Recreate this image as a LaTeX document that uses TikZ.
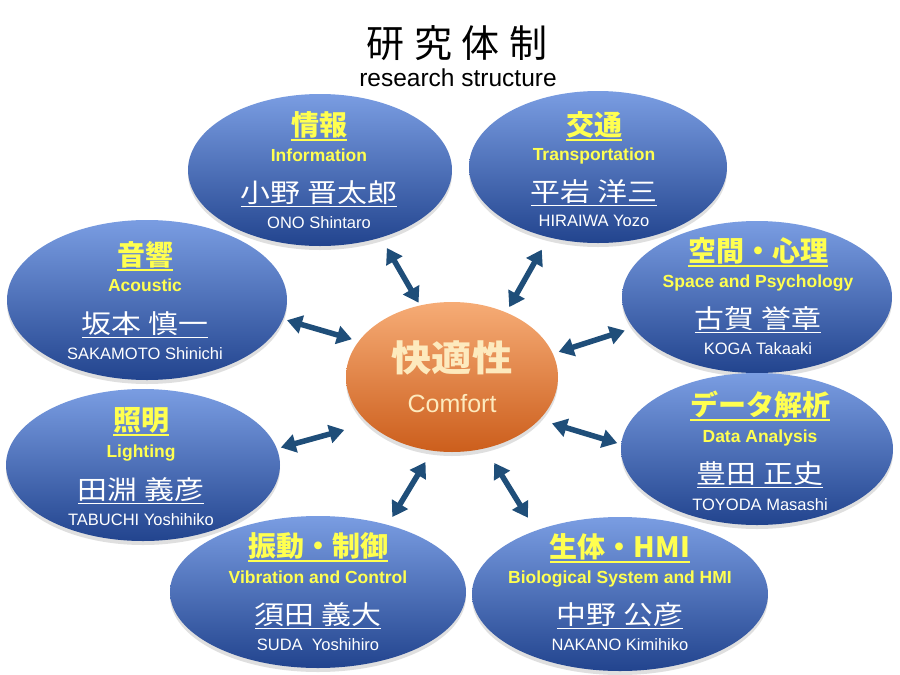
\documentclass[tikz,border=0pt]{standalone}
\usepackage{fontspec}
\usepackage{graphicx}
\setmainfont{Liberation Sans}
\newfontfamily\jp{Noto Sans CJK JP}
\newfontfamily\jpwide[LetterSpace=25]{Noto Sans CJK JP}
\usetikzlibrary{shapes.geometric,arrows.meta,shadows}
\definecolor{bubtop}{RGB}{122,157,226}
\definecolor{bubbot}{RGB}{34,68,142}
\definecolor{cortop}{RGB}{246,172,118}
\definecolor{corbot}{RGB}{204,94,28}
\definecolor{cream}{RGB}{253,234,190}
\definecolor{fieldyellow}{RGB}{255,255,80}
\definecolor{linkblue}{RGB}{31,78,121}
\newcommand{\undl}[1]{\setbox0\hbox{#1}\leavevmode\rlap{\rule[-0.2em]{\wd0}{1.3pt}}\box0}

\begin{document}
\begin{tikzpicture}[x=1pt, y=-1pt,
  bubble/.style={ellipse,minimum height=152pt,inner sep=0pt,top color=bubtop,bottom color=bubbot,
    drop shadow={opacity=.25,shadow xshift=0pt,shadow yshift=-4pt}},
  field/.style={font=\jp\bfseries\fontsize{28}{30}\selectfont,text=fieldyellow,inner sep=0pt,anchor=base},
  eng/.style={font=\bfseries\fontsize{17.5}{19}\selectfont,text=fieldyellow,inner sep=0pt,anchor=base},
  jname/.style={font=\jp\fontsize{26}{28}\selectfont,text=white,inner sep=0pt,anchor=base},
  roma/.style={font=\fontsize{16.5}{18}\selectfont,text=white,inner sep=0pt,anchor=base},
  link/.style={draw=linkblue,line width=5.5pt,{Triangle[length=15pt,width=18pt]}-{Triangle[length=15pt,width=18pt]}}]
  \useasboundingbox[fill=white] (0,0) rectangle (900,675);
  % title
  \node[font=\jpwide\fontsize{38}{42}\selectfont,anchor=base,inner sep=0pt] (title) at (457,57) {研究体制};
  \node[font=\fontsize{24.5}{26}\selectfont,anchor=base,inner sep=0pt] (subtitle) at (458,86) {research structure};
  % centre
  \node[ellipse,minimum width=212pt,minimum height=150pt,inner sep=0pt,top color=cortop,bottom color=corbot,
    drop shadow={opacity=.25,shadow xshift=0pt,shadow yshift=-4pt}] (comfort) at (452,377) {};
  \node[font=\jp\bfseries\fontsize{36}{40}\selectfont,text=cream,anchor=base,inner sep=0pt] (comfort-j) at (452,371) {\scalebox{1.12}[1]{快適性}};
  \node[font=\fontsize{25}{27}\selectfont,text=cream,anchor=base,inner sep=0pt] (comfort-e) at (452,412) {Comfort};
  % members
  \node[bubble,minimum width=264pt] (info) at (320,170) {};
  \node[field] (info-f) at (319,135) {\undl{情報}}; \node[eng] (info-e) at (319,161) {Information};
  \node[jname] (info-n) at (319,202) {\scalebox{1.15}[1]{\undl{小野 晋太郎}}}; \node[roma] (info-r) at (319,228) {ONO Shintaro};
  \node[bubble,minimum width=258pt] (trans) at (598,167) {};
  \node[field] (trans-f) at (594,135) {\undl{交通}}; \node[eng] (trans-e) at (594,160) {Transportation};
  \node[jname] (trans-n) at (594,201) {\scalebox{1.15}[1]{\undl{平岩 洋三}}}; \node[roma] (trans-r) at (594,226) {HIRAIWA Yozo};
  \node[bubble,minimum width=280pt,minimum height=160pt] (acou) at (147,300) {};
  \node[field] (acou-f) at (145,265) {\undl{音響}}; \node[eng] (acou-e) at (145,291) {Acoustic};
  \node[jname] (acou-n) at (145,333) {\scalebox{1.15}[1]{\undl{坂本 慎一}}}; \node[roma] (acou-r) at (145,359) {SAKAMOTO Shinichi};
  \node[bubble,minimum width=270pt] (space) at (757,297) {};
  \node[field] (space-f) at (758,261) {\undl{空間・心理}}; \node[eng] (space-e) at (758,287) {Space and Psychology};
  \node[jname] (space-n) at (758,328) {\scalebox{1.15}[1]{\undl{古賀 誉章}}}; \node[roma] (space-r) at (758,354) {KOGA Takaaki};
  \node[bubble,minimum width=274pt] (light) at (143,465) {};
  \node[field] (light-f) at (141,430) {\undl{照明}}; \node[eng] (light-e) at (141,457) {Lighting};
  \node[jname] (light-n) at (141,499) {\scalebox{1.15}[1]{\undl{田淵 義彦}}}; \node[roma] (light-r) at (141,525) {TABUCHI Yoshihiko};
  \node[bubble,minimum width=272pt] (data) at (757,449) {};
  \node[field] (data-f) at (760,415) {\undl{データ解析}}; \node[eng] (data-e) at (760,442) {Data Analysis};
  \node[jname] (data-n) at (760,483) {\scalebox{1.15}[1]{\undl{豊田 正史}}}; \node[roma] (data-r) at (760,510) {TOYODA Masashi};
  \node[bubble,minimum width=296pt] (vib) at (318,592) {};
  \node[field] (vib-f) at (318,556) {\undl{振動・制御}}; \node[eng] (vib-e) at (318,583) {Vibration and Control};
  \node[jname] (vib-n) at (318,624) {\scalebox{1.15}[1]{\undl{須田 義大}}}; \node[roma] (vib-r) at (318,650) {SUDA\ \ Yoshihiro};
  \node[bubble,minimum width=296pt,minimum height=154pt] (bio) at (620,594) {};
  \node[field] (bio-f) at (620,557) {\undl{生体・HMI}}; \node[eng] (bio-e) at (620,583) {Biological System and HMI};
  \node[jname] (bio-n) at (620,624) {\scalebox{1.15}[1]{\undl{中野 公彦}}}; \node[roma] (bio-r) at (620,650) {NAKANO Kimihiko};
  % links
  \draw[link,shorten <=12pt,shorten >=3pt] (info.-48) -- (comfort.114);
  \draw[link,shorten <=14pt,shorten >=6pt] (trans.-125) -- (comfort.50);
  \draw[link,shorten <=4pt,shorten >=7pt] (acou.-8) -- (comfort.159);
  \draw[link,shorten <=9pt,shorten >=6pt] (space.194) -- (comfort.13);
  \draw[link,shorten <=4pt,shorten >=25pt] (light.7) -- (comfort.209);
  \draw[link,shorten <=4pt,shorten >=13pt] (data.178) -- (comfort.-26);
  \draw[link,shorten <=9pt,shorten >=13pt] (vib.44) -- (comfort.-105);
  \draw[link,shorten <=15pt,shorten >=17pt] (bio.143) -- (comfort.-65);
\end{tikzpicture}
\end{document}
